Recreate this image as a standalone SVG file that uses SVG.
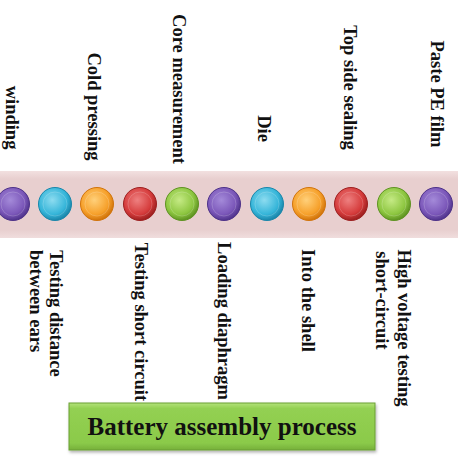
<svg xmlns="http://www.w3.org/2000/svg" width="458" height="458" viewBox="0 0 458 458">
<style>
.lbl{font-family:"Liberation Serif","Times New Roman",serif;font-weight:bold;font-size:18.5px;fill:#111;}
.ttl{font-family:"Liberation Serif","Times New Roman",serif;font-weight:bold;font-size:25px;fill:#111;}
.rim{stroke-width:1;}
.hl{fill:#fff;opacity:0.28;}
</style>
<defs>
<linearGradient id="band" x1="0" y1="0" x2="0" y2="1">
<stop offset="0" stop-color="#f2e0e0"/>
<stop offset="0.12" stop-color="#e8cfcf"/>
<stop offset="0.88" stop-color="#e8cfcf"/>
<stop offset="1" stop-color="#f0dddd"/>
</linearGradient>
<radialGradient id="g-purple" cx="0.42" cy="0.38" r="0.62"><stop offset="0" stop-color="#a48ad9"/><stop offset="0.7" stop-color="#7b57b9"/><stop offset="1" stop-color="#51358d"/></radialGradient>
<radialGradient id="g-cyan" cx="0.42" cy="0.38" r="0.62"><stop offset="0" stop-color="#8ddcf0"/><stop offset="0.7" stop-color="#35b5d9"/><stop offset="1" stop-color="#1b86aa"/></radialGradient>
<radialGradient id="g-orange" cx="0.42" cy="0.38" r="0.62"><stop offset="0" stop-color="#ffd07a"/><stop offset="0.7" stop-color="#f6a02a"/><stop offset="1" stop-color="#d1740c"/></radialGradient>
<radialGradient id="g-red" cx="0.42" cy="0.38" r="0.62"><stop offset="0" stop-color="#ee8080"/><stop offset="0.7" stop-color="#d53b3b"/><stop offset="1" stop-color="#9d2020"/></radialGradient>
<radialGradient id="g-green" cx="0.42" cy="0.38" r="0.62"><stop offset="0" stop-color="#c5ea85"/><stop offset="0.7" stop-color="#8dc640"/><stop offset="1" stop-color="#5f9322"/></radialGradient>
<linearGradient id="box" x1="0" y1="0" x2="0" y2="1">
<stop offset="0" stop-color="#b3e27a"/>
<stop offset="0.12" stop-color="#93d052"/>
<stop offset="0.85" stop-color="#8bca4a"/>
<stop offset="1" stop-color="#76b03a"/>
</linearGradient>
<filter id="sh" x="-5%" y="-20%" width="110%" height="150%"><feDropShadow dx="1" dy="2" stdDeviation="1.5" flood-color="#000" flood-opacity="0.3"/></filter>
</defs>

<rect id="band-strip" x="0" y="171" width="458" height="67" fill="url(#band)"/>

<g id="connectors"></g>

<g id="step-winding">
<circle cx="13" cy="204" r="16.5" fill="url(#g-purple)" stroke="#4e3289" class="rim"/>
<circle cx="13" cy="204" r="12" fill="none" stroke="#fff" stroke-opacity="0.18"/>
<text class="lbl" text-anchor="middle" transform="translate(6,117.5) rotate(90)">winding</text>
</g>
<g id="step-testing-distance">
<circle cx="55" cy="204" r="16.5" fill="url(#g-cyan)" stroke="#1a87ab" class="rim"/>
<circle cx="55" cy="204" r="12" fill="none" stroke="#fff" stroke-opacity="0.18"/>
<text class="lbl" text-anchor="middle" transform="translate(50,313.5) rotate(90)">Testing distance</text>
<text class="lbl" text-anchor="middle" transform="translate(30,301) rotate(90)">between ears</text>
</g>
<g id="step-cold-pressing">
<circle cx="97" cy="204" r="16.5" fill="url(#g-orange)" stroke="#d1740c" class="rim"/>
<circle cx="97" cy="204" r="12" fill="none" stroke="#fff" stroke-opacity="0.18"/>
<text class="lbl" text-anchor="middle" transform="translate(88,106.5) rotate(90)">Cold pressing</text>
</g>
<g id="step-testing-short">
<circle cx="140" cy="204" r="16.5" fill="url(#g-red)" stroke="#9d2020" class="rim"/>
<circle cx="140" cy="204" r="12" fill="none" stroke="#fff" stroke-opacity="0.18"/>
<text class="lbl" text-anchor="middle" transform="translate(135,322) rotate(90)">Testing short circuit</text>
</g>
<g id="step-core-measurement">
<circle cx="182" cy="204" r="16.5" fill="url(#g-green)" stroke="#5f9322" class="rim"/>
<circle cx="182" cy="204" r="12" fill="none" stroke="#fff" stroke-opacity="0.18"/>
<text class="lbl" text-anchor="middle" transform="translate(173,89) rotate(90)">Core measurement</text>
</g>
<g id="step-loading-diaphragm">
<circle cx="224" cy="204" r="16.5" fill="url(#g-purple)" stroke="#4e3289" class="rim"/>
<circle cx="224" cy="204" r="12" fill="none" stroke="#fff" stroke-opacity="0.18"/>
<text class="lbl" text-anchor="middle" transform="translate(218,321) rotate(90)">Loading diaphragm</text>
</g>
<g id="step-die">
<circle cx="267" cy="204" r="16.5" fill="url(#g-cyan)" stroke="#1a87ab" class="rim"/>
<circle cx="267" cy="204" r="12" fill="none" stroke="#fff" stroke-opacity="0.18"/>
<text class="lbl" text-anchor="middle" transform="translate(258,128.5) rotate(90)">Die</text>
</g>
<g id="step-into-shell">
<circle cx="309" cy="204" r="16.5" fill="url(#g-orange)" stroke="#d1740c" class="rim"/>
<circle cx="309" cy="204" r="12" fill="none" stroke="#fff" stroke-opacity="0.18"/>
<text class="lbl" text-anchor="middle" transform="translate(302,300.5) rotate(90)">Into the shell</text>
</g>
<g id="step-top-side-sealing">
<circle cx="351" cy="204" r="16.5" fill="url(#g-red)" stroke="#9d2020" class="rim"/>
<circle cx="351" cy="204" r="12" fill="none" stroke="#fff" stroke-opacity="0.18"/>
<text class="lbl" text-anchor="middle" transform="translate(344,87.5) rotate(90)">Top side sealing</text>
</g>
<g id="step-high-voltage">
<circle cx="394" cy="204" r="16.5" fill="url(#g-green)" stroke="#5f9322" class="rim"/>
<circle cx="394" cy="204" r="12" fill="none" stroke="#fff" stroke-opacity="0.18"/>
<text class="lbl" text-anchor="middle" transform="translate(398,328) rotate(90)">High voltage testing</text>
<text class="lbl" text-anchor="middle" transform="translate(376,300.5) rotate(90)">short-circuit</text>
</g>
<g id="step-paste-pe-film">
<circle cx="436" cy="204" r="16.5" fill="url(#g-purple)" stroke="#4e3289" class="rim"/>
<circle cx="436" cy="204" r="12" fill="none" stroke="#fff" stroke-opacity="0.18"/>
<text class="lbl" text-anchor="middle" transform="translate(431,94) rotate(90)">Paste PE film</text>
</g>

<g id="title">
<rect x="69" y="403" width="306" height="47" fill="url(#box)" stroke="#6a9f35" stroke-width="1" filter="url(#sh)"/>
<text class="ttl" x="222" y="435" text-anchor="middle">Battery assembly process</text>
</g>
</svg>
